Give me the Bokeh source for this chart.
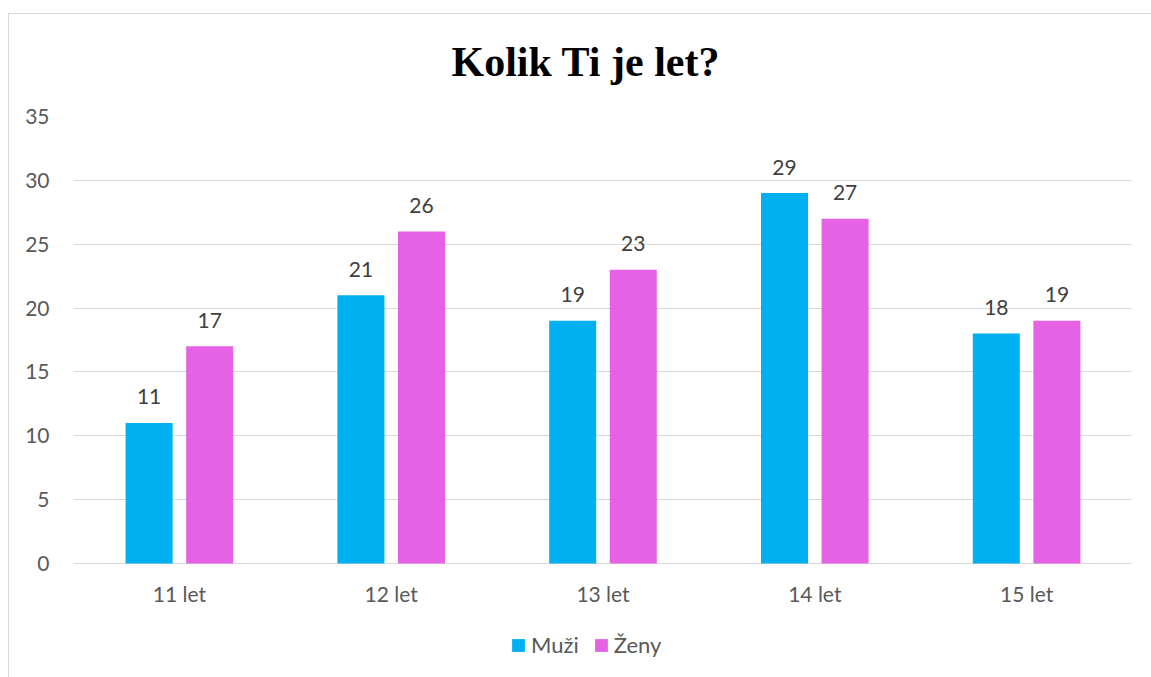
from bokeh.plotting import figure
from bokeh.models import (ColumnDataSource, FactorRange, Range1d, LabelSet, Legend, LegendItem,
                          FixedTicker)
from bokeh.core.properties import value
from bokeh.transform import dodge
from bokeh.embed import file_html
from bokeh.resources import INLINE

categories = ["11 let", "12 let", "13 let", "14 let", "15 let"]
muzi = [11, 21, 19, 29, 18]
zeny = [17, 26, 23, 27, 19]
series_names = ["Muži", "Ženy"]
y_ticks = [0, 5, 10, 15, 20, 25, 30, 35]
title_text = "Kolik Ti je let?"

BLUE = "#00B0F0"
PINK = "#E662E5"
GRAY = "#595959"
LABEL = "#404040"
FONT = "Lato"

src = ColumnDataSource(dict(cat=categories, muzi=muzi, zeny=zeny,
                            muzi_t=[str(v) for v in muzi], zeny_t=[str(v) for v in zeny]))

p = figure(width=1151, height=677, x_range=FactorRange(*categories),
           y_range=Range1d(-8.93, y_ticks[-1]),
           output_backend="svg", toolbar_location=None,
           min_border_left=73, min_border_right=19, min_border_top=116, min_border_bottom=0)
p.outline_line_color = None
p.border_fill_color = None
p.background_fill_color = "white"
p.styles = {
    "background": ("linear-gradient(#d9d9d9,#d9d9d9) 8px 13px / 100% 1px no-repeat, "
                   "linear-gradient(#d9d9d9,#d9d9d9) 8px 13px / 1px 100% no-repeat, white"),
}

p.title.text = title_text
p.title.align = "left"
p.title.offset = 378
p.title.text_font = "Liberation Serif"
p.title.text_font_style = "bold"
p.title.text_font_size = "42px"
p.title.text_color = "black"
p.title.standoff = 64

W = 0.222
r1 = p.vbar(x=dodge("cat", -0.143, range=p.x_range), top="muzi", width=W, source=src,
            fill_color=BLUE, line_color=None)
r2 = p.vbar(x=dodge("cat", 0.143, range=p.x_range), top="zeny", width=W, source=src,
            fill_color=PINK, line_color=None)

for field, off in (("muzi", -0.143), ("zeny", 0.143)):
    p.add_layout(LabelSet(x=dodge("cat", off, range=p.x_range), y=field, text=field + "_t", source=src,
                          text_align="center", text_baseline="middle", y_offset=26,
                          text_font=value(FONT), text_font_size="21px", text_color=LABEL))

# category labels under the zero line
p.text(x="cat", y=0, text="cat", source=src, y_offset=30, text_align="center",
       text_baseline="middle", text_font=value(FONT), text_font_size="21px", text_color=GRAY)

p.xaxis.visible = False
p.yaxis.ticker = FixedTicker(ticks=y_ticks)
yax = p.yaxis[0]
yax.axis_line_color = None
yax.major_tick_line_color = None
yax.minor_tick_line_color = None
yax.major_label_text_font = FONT
yax.major_label_text_font_size = "21px"
yax.major_label_text_color = GRAY
yax.major_label_standoff = 18

p.xgrid.grid_line_color = None
p.ygrid.grid_line_color = "#d9d9d9"
p.ygrid.grid_line_width = 1

legend = Legend(items=[LegendItem(label=series_names[0], renderers=[r1]),
                       LegendItem(label=series_names[1], renderers=[r2])],
                orientation="horizontal", location=(437, 19),
                glyph_width=16, glyph_height=16, label_text_font=FONT, label_text_font_size="22px",
                label_text_color=GRAY, border_line_color=None, background_fill_alpha=0,
                spacing=14, padding=4, margin=0, label_standoff=5)
p.add_layout(legend, "center")

open("out.html", "w").write(file_html(p, INLINE))
